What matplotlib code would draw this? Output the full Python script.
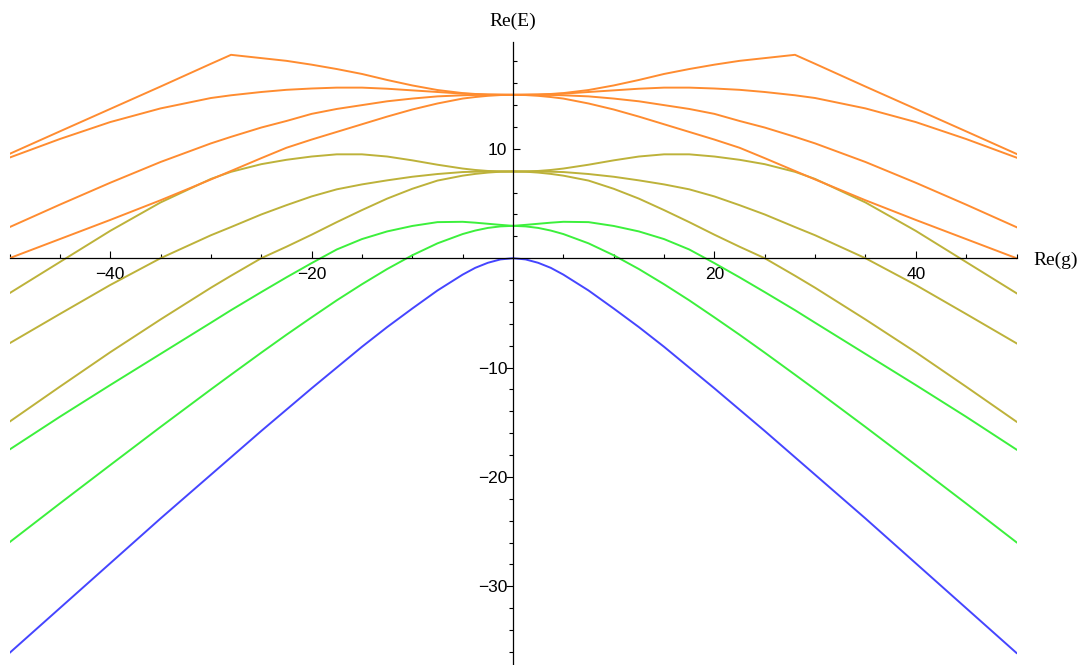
import matplotlib
matplotlib.use("Agg")
import matplotlib.pyplot as plt
import matplotlib.lines as mlines
from matplotlib.ticker import FixedLocator, NullFormatter

# ---- data ----
g = [-50, -45, -40, -35, -30, -28, -25, -22.5, -20, -17.5, -15, -12.5, -10, -7.5, -5, -3.75, -2.5, -1.25,
     0, 1.25, 2.5, 3.75, 5, 7.5, 10, 12.5, 15, 17.5, 20, 22.5, 25, 28, 30, 35, 40, 45, 50]

blue = [-36.1, -32.0, -27.9, -23.8, -19.8, -18.2, -15.8, -13.85, -11.9, -10.0, -8.1, -6.3, -4.6, -2.95, -1.5, -0.88, -0.42, -0.11,
        0.0, -0.11, -0.42, -0.88, -1.5, -2.95, -4.6, -6.3, -8.1, -10.0, -11.9, -13.85, -15.8, -18.2, -19.8, -23.8, -27.9, -32.0, -36.1]

green_low = [-25.98, -22.43, -18.92, -15.43, -12.0, -10.65, -8.64, -7.0, -5.41, -3.85, -2.38, -0.99, 0.27, 1.36, 2.21, 2.53, 2.77, 2.91,
             2.96, 2.91, 2.77, 2.53, 2.21, 1.36, 0.27, -0.99, -2.38, -3.85, -5.41, -7.0, -8.64, -10.65, -12.0, -15.43, -18.92, -22.43, -25.98]

green_up = [-17.5, -14.5, -11.6, -8.75, -5.9, -4.75, -3.1, -1.75, -0.45, 0.8, 1.75, 2.45, 2.95, 3.3, 3.33, 3.25, 3.15, 3.05,
            2.96, 3.05, 3.15, 3.25, 3.33, 3.3, 2.95, 2.45, 1.75, 0.8, -0.45, -1.75, -3.1, -4.75, -5.9, -8.75, -11.6, -14.5, -17.5]

olive_low = [-14.95, -11.75, -8.6, -5.6, -2.7, -1.6, 0.0, 1.05, 2.15, 3.3, 4.4, 5.45, 6.35, 7.1, 7.55, 7.71, 7.83, 7.91,
             7.93, 7.91, 7.83, 7.71, 7.55, 7.1, 6.35, 5.45, 4.4, 3.3, 2.15, 1.05, 0.0, -1.6, -2.7, -5.6, -8.6, -11.75, -14.95]

olive_mid = [-7.78, -5.1, -2.45, 0.0, 2.1, 2.85, 4.0, 4.85, 5.65, 6.3, 6.75, 7.12, 7.45, 7.7, 7.88, 7.91, 7.93, 7.93,
             7.93, 7.93, 7.93, 7.91, 7.88, 7.7, 7.45, 7.12, 6.75, 6.3, 5.65, 4.85, 4.0, 2.85, 2.1, 0.0, -2.45, -5.1, -7.78]

olive_up = [-3.2, -0.35, 2.5, 5.1, 7.25, 7.9, 8.6, 9.0, 9.3, 9.5, 9.5, 9.3, 8.95, 8.55, 8.2, 8.07, 7.98, 7.94,
            7.93, 7.94, 7.98, 8.07, 8.2, 8.55, 8.95, 9.3, 9.5, 9.5, 9.3, 9.0, 8.6, 7.9, 7.25, 5.1, 2.5, -0.35, -3.2]

orange_1 = [0.0, 1.75, 3.5, 5.3, 7.2, 7.98, 9.15, 10.1, 10.85, 11.55, 12.25, 12.95, 13.6, 14.15, 14.6, 14.74, 14.85, 14.92,
            14.94, 14.92, 14.85, 14.74, 14.6, 14.15, 13.6, 12.95, 12.25, 11.55, 10.85, 10.1, 9.15, 7.98, 7.2, 5.3, 3.5, 1.75, 0.0]

orange_2 = [2.84, 4.9, 6.9, 8.8, 10.5, 11.1, 11.95, 12.55, 13.2, 13.65, 14.0, 14.35, 14.6, 14.8, 14.9, 14.93, 14.94, 14.94,
            14.94, 14.94, 14.94, 14.93, 14.9, 14.8, 14.6, 14.35, 14.0, 13.65, 13.2, 12.55, 11.95, 11.1, 10.5, 8.8, 6.9, 4.9, 2.84]

orange_3 = [9.2, 10.9, 12.45, 13.7, 14.65, 14.9, 15.2, 15.4, 15.52, 15.6, 15.6, 15.5, 15.35, 15.2, 15.05, 15.0, 14.96, 14.95,
            14.94, 14.95, 14.96, 15.0, 15.05, 15.2, 15.35, 15.5, 15.6, 15.6, 15.52, 15.4, 15.2, 14.9, 14.65, 13.7, 12.45, 10.9, 9.2]

orange_4 = [9.54, 11.6, 13.65, 15.7, 17.78, 18.6, 18.3, 18.05, 17.7, 17.3, 16.85, 16.3, 15.8, 15.38, 15.1, 15.02, 14.97, 14.95,
            14.94, 14.95, 14.97, 15.02, 15.1, 15.38, 15.8, 16.3, 16.85, 17.3, 17.7, 18.05, 18.3, 18.6, 17.78, 15.7, 13.65, 11.6, 9.54]

x_major = [-40, -20, 20, 40]
x_major_labels = ["\u221240", "\u221220", "20", "40"]
x_minor = [-50, -45, -35, -30, -25, -15, -10, -5, 5, 10, 15, 25, 30, 35, 45, 50]
y_major = [-30, -20, -10, 10]
y_major_labels = ["\u221230", "\u221220", "\u221210", "10"]
y_minor = [-36, -34, -32, -28, -26, -24, -22, -18, -16, -14, -12, -8, -6, -4, -2,
           2, 4, 6, 8, 12, 14, 16, 18]

# ---- styling ----
C_BLUE = "#4545FF"
C_GREEN = "#3CF03C"
C_OLIVE = "#BDB23A"
C_ORANGE = "#FF8C30"
LW = 1.4

W, H = 1086, 665
fig = plt.figure(figsize=(W / 100, H / 100), dpi=100)
left_px, right_px = 9.5, 1016.5
top_px, bot_px = 41.7, 665.0
ax = fig.add_axes([left_px / W, 1 - bot_px / H, (right_px - left_px) / W, (bot_px - top_px) / H])
ax.set_xlim(-50, 50)
ax.set_ylim(-37.2, 19.8)

series = [
    (blue, C_BLUE),
    (green_low, C_GREEN), (green_up, C_GREEN),
    (olive_low, C_OLIVE), (olive_mid, C_OLIVE), (olive_up, C_OLIVE),
    (orange_1, C_ORANGE), (orange_2, C_ORANGE), (orange_3, C_ORANGE), (orange_4, C_ORANGE),
]
for vals, col in series:
    ax.plot(g, vals, color=col, lw=LW, solid_joinstyle="round", zorder=2)

for s in ["top", "right"]:
    ax.spines[s].set_visible(False)
ax.spines["left"].set_position(("data", 0))
ax.spines["bottom"].set_position(("data", 0))
for s in ["left", "bottom"]:
    ax.spines[s].set_linewidth(0.9)
    ax.spines[s].set_color("black")
    ax.spines[s].set_zorder(3)

tick_font = dict(family=["Liberation Sans", "DejaVu Sans"], size=12.5)
ax.xaxis.set_major_locator(FixedLocator(x_major))
ax.xaxis.set_minor_locator(FixedLocator(x_minor))
ax.set_xticklabels(x_major_labels, **tick_font)
ax.xaxis.set_minor_formatter(NullFormatter())
ax.yaxis.set_major_locator(FixedLocator(y_major))
ax.yaxis.set_minor_locator(FixedLocator(y_minor))
ax.set_yticklabels(y_major_labels, **tick_font)
ax.yaxis.set_minor_formatter(NullFormatter())

ax.tick_params(axis="both", which="both", direction="in", color="black", width=0.8)
ax.tick_params(axis="both", which="major", length=5.0)
ax.tick_params(axis="x", which="major", pad=6)
ax.tick_params(axis="y", which="major", pad=4)
ax.tick_params(axis="both", which="minor", length=3.2)


def flip_neg_ticks():
    # ticks below zero on the vertical axis point to the left
    majors = ax.yaxis.get_major_ticks(len(y_major))
    minors = ax.yaxis.get_minor_ticks(len(y_minor))
    for tk, v in zip(majors, y_major):
        if v < 0:
            tk.tick1line.set_marker(mlines.TICKLEFT)
    for tk, v in zip(minors, y_minor):
        if v < 0:
            tk.tick1line.set_marker(mlines.TICKLEFT)


flip_neg_ticks()

label_font = ["Liberation Serif", "DejaVu Serif"]
fig.text(513 / W, 1 - 21 / H, "Re(E)", ha="center", va="center", family=label_font, size=14)
fig.text(1033 / W, 1 - 260 / H, "Re(g)", ha="left", va="center", family=label_font, size=14)

fig.canvas.draw()
flip_neg_ticks()
fig.savefig("out.png", dpi=100)
